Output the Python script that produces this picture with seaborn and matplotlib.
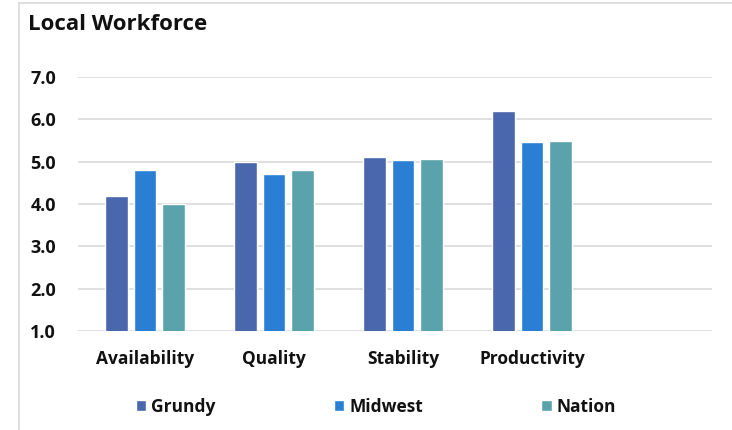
import matplotlib
matplotlib.use("Agg")
import matplotlib.pyplot as plt
import seaborn as sns
import pandas as pd
from matplotlib.lines import Line2D

categories = ["Availability", "Quality", "Stability", "Productivity"]
series = ["Grundy", "Midwest", "Nation"]
grundy = [4.2, 5.0, 5.1, 6.2]
midwest = [4.8, 4.7, 5.05, 5.46]
nation = [4.0, 4.8, 5.07, 5.5]
yticks = [1.0, 2.0, 3.0, 4.0, 5.0, 6.0, 7.0]
colors = ["#4A66AC", "#2A7FD4", "#5BA3AC"]

rows = []
for name, vals in zip(series, [grundy, midwest, nation]):
    for c, v in zip(categories, vals):
        rows.append({"Category": c, "Series": name, "Value": v})
df = pd.DataFrame(rows)

sns.set_style("white")
plt.rcParams["font.family"] = ["Open Sans", "DejaVu Sans"]

fig = plt.figure(figsize=(7.32, 4.30), dpi=100)
ax = fig.add_axes([78/732, 1-331/430, (712-78)/732, (331-77)/430])

sns.barplot(data=df, x="Category", y="Value", hue="Series", order=categories,
            hue_order=series, palette=colors, width=0.66, gap=0.2,
            saturation=1, ax=ax, legend=True, errorbar=None)

ax.set_ylim(1, 7)
ax.set_xlim(-0.52, 4.395)
ax.set_yticks(yticks)
ax.set_yticklabels([f"{t:.1f}" for t in yticks], fontweight="bold", fontsize=13,
                   color="#111111")
for lbl in ax.get_xticklabels():
    lbl.set_fontweight("bold")
    lbl.set_fontsize(12.5)
    lbl.set_color("#111111")
ax.set_xlabel("")
ax.set_ylabel("")
ax.yaxis.grid(True, color="#d9d9d9", linewidth=1.2)
ax.set_axisbelow(True)
for s in ax.spines.values():
    s.set_visible(False)
ax.tick_params(axis="both", length=0)
ax.tick_params(axis="y", pad=16)
ax.tick_params(axis="x", pad=14)

handles, labels = ax.get_legend_handles_labels()
ax.get_legend().remove()
leg = fig.legend(handles, labels, loc="center", bbox_to_anchor=(376/732, 1-407/430),
                 ncol=3, frameon=False, handlelength=0.6, handleheight=0.6,
                 handletextpad=0.3, columnspacing=6.8,
                 prop={"weight": "bold", "size": 12.5})
for t in leg.get_texts():
    t.set_color("#111111")

fig.text(28/732, 1-25/430, "Local Workforce", fontsize=16, fontweight="bold",
         ha="left", va="center", color="#111111")

# chart-area frame: top and left edges only
fig.add_artist(Line2D([19/732, 1.0], [1-3/430, 1-3/430], transform=fig.transFigure,
                      color="#d9d9d9", linewidth=1.2))
fig.add_artist(Line2D([19/732, 19/732], [0, 1-3/430], transform=fig.transFigure,
                      color="#d9d9d9", linewidth=1.2))

fig.savefig("out.png", dpi=100, facecolor="white")
